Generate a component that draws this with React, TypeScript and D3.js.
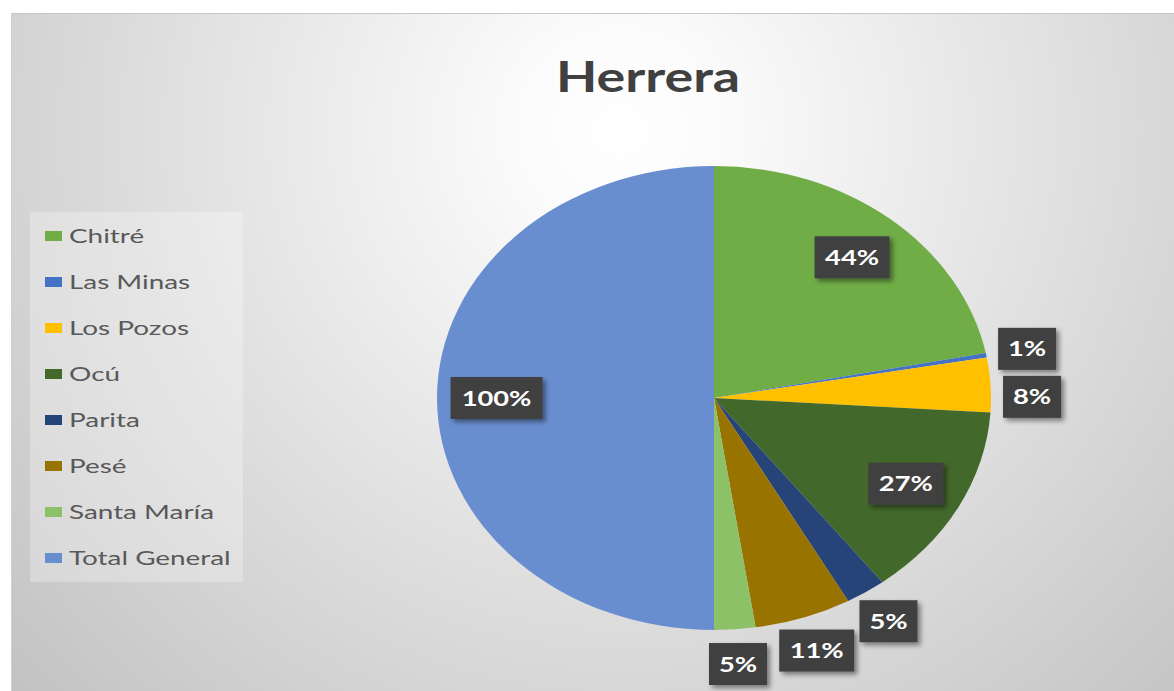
import React from "react";
import * as d3 from "d3";

// Herrera district shares (Total General is 100%)
const categories = [
  "Chitré",
  "Las Minas",
  "Los Pozos",
  "Ocú",
  "Parita",
  "Pesé",
  "Santa María",
  "Total General",
];
const shares = [0.438, 0.006, 0.076, 0.272, 0.047, 0.113, 0.048, 1.0];
const colors = [
  "#70AD47",
  "#4472C4",
  "#FFC000",
  "#43682B",
  "#264478",
  "#997300",
  "#8CC168",
  "#698ED0",
];
const title = "Herrera";

const W = 1174;
const H = 691;
const cx = 714;
const cy = 398;
const ry = 232;
const rx = 277;

export default function App() {
  const pie = d3
    .pie<number>()
    .sort(null)
    .value((d) => d);
  const arcs = pie(shares);
  const arc = d3.arc<d3.PieArcDatum<number>>().innerRadius(0).outerRadius(ry);
  const fmt = d3.format(".0%");

  // label placement: big slices inside, small ones outside (Excel "best fit")
  const boxH = 42;
  const labels = arcs.map((a, i) => {
    const text = fmt(a.data);
    const mid = (a.startAngle + a.endAngle) / 2;
    const inside = a.endAngle - a.startAngle > 0.5;
    const r = inside ? 0.785 : 1.15;
    return {
      i,
      text,
      inside,
      x: cx + rx * r * Math.sin(mid),
      y: cy - ry * r * Math.cos(mid),
      w: 24 + 17 * text.length,
    };
  });
  // push overlapping outside labels apart
  let prev: (typeof labels)[number] | null = null;
  for (const l of labels) {
    if (l.inside) continue;
    if (
      prev &&
      Math.abs(l.x - prev.x) < (l.w + prev.w) / 2 + 4 &&
      Math.abs(l.y - prev.y) < boxH + 4
    ) {
      l.y = prev.y + boxH + 6;
    }
    prev = l;
  }

  const legendY = d3
    .scalePoint<string>()
    .domain(categories)
    .range([236, 558]);

  return (
    <svg
      width={W}
      height={H}
      style={{ position: "absolute", left: 0, top: 0 }}
      fontFamily="Lato, 'Open Sans', sans-serif"
    >
      <defs>
        <radialGradient
          id="bg"
          gradientUnits="userSpaceOnUse"
          cx={620}
          cy={130}
          r={830}
        >
          <stop offset="0" stopColor="#ffffff" />
          <stop offset="0.12" stopColor="#fbfbfb" />
          <stop offset="1" stopColor="#c2c2c2" />
        </radialGradient>
        <filter id="shadow" x="-30%" y="-30%" width="160%" height="160%">
          <feDropShadow
            dx="3"
            dy="3"
            stdDeviation="2.5"
            floodColor="#000"
            floodOpacity="0.45"
          />
        </filter>
      </defs>
      <rect width={W} height={H} fill="#fff" />
      <rect x={11} y={13} width={W - 11} height={H - 13} fill="url(#bg)" />
      <line x1={11} x2={W} y1={13.5} y2={13.5} stroke="#c8c8c8" />
      <line x1={11.5} x2={11.5} y1={13} y2={H} stroke="#d0d0d0" />

      <text
        transform={`translate(648,92) scale(1.28,1)`}
        textAnchor="middle"
        fontSize={42}
        fontWeight="bold"
        fill="#404040"
      >
        {title}
      </text>

      <g transform={`translate(${cx},${cy}) scale(${rx / ry},1)`}>
        {arcs.map((a, i) => (
          <path key={categories[i]} d={arc(a) || ""} fill={colors[i]} />
        ))}
      </g>

      {labels.map((l) => (
        <g key={categories[l.i]}>
          <rect
            x={l.x - l.w / 2}
            y={l.y - boxH / 2}
            width={l.w}
            height={boxH}
            fill="#404040"
            filter="url(#shadow)"
          />
          <text
            transform={`translate(${l.x},${l.y + 7.5}) scale(1.3,1)`}
            textAnchor="middle"
            fontSize={21}
            fontWeight="bold"
            fill="#fff"
          >
            {l.text}
          </text>
        </g>
      ))}

      <rect x={30} y={212} width={213} height={370} fill="#fff" opacity={0.28} />
      {categories.map((c, i) => (
        <g key={c} transform={`translate(0,${legendY(c)})`}>
          <rect x={45} y={-5} width={17} height={10} fill={colors[i]} />
          <text
            transform="translate(69,7) scale(1.43,1)"
            fontSize={19.5}
            fill="#595959"
          >
            {c}
          </text>
        </g>
      ))}
    </svg>
  );
}
